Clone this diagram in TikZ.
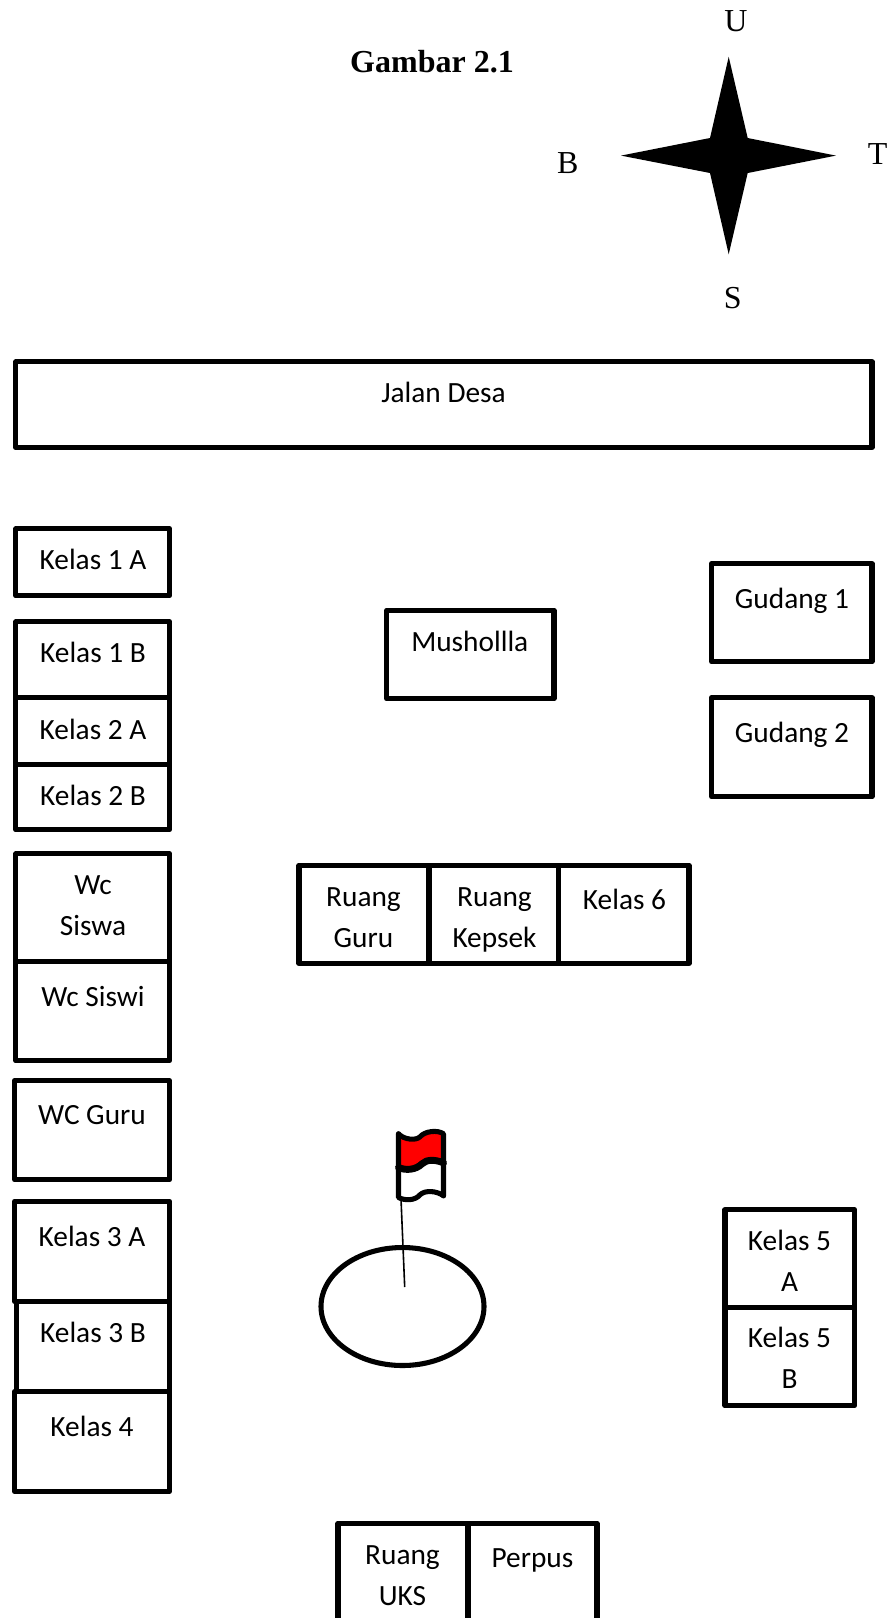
\documentclass[tikz,border=0pt]{standalone}
\usepackage{fontspec}
\setmainfont{Liberation Serif}
\newfontfamily\calibrifont{Carlito}
\tikzset{
  wall/.style={draw=black,line width=3.8pt,line join=round,line cap=round},
  roomtext/.style={align=center,inner sep=0pt,font=\calibrifont\fontsize{22}{30.9}\selectfont},
  compass/.style={inner sep=0pt,font=\fontsize{24}{28}\selectfont},
}
\newcommand{\roomrect}[4]{\draw[wall] (#1,#2) rectangle (#3,#4);}
\begin{document}
\begin{tikzpicture}[x=0.75pt,y=-0.75pt]
\useasboundingbox (0,0) rectangle (887,1618);
\begin{scope}[shift={(1,0.8)}]
% title and compass
\node[inner sep=0pt,font=\bfseries\fontsize{24}{28}\selectfont] (title) at (431,60.5) {Gambar 2.1};
\fill[black] (727.7,56) -- (746.7,137.2) -- (835,154.8) -- (746.7,172.2) -- (727.7,253.5) -- (709,172.2) -- (620,154.8) -- (709,137.2) -- cycle;
\node[compass] (u) at (735,20.7) {U};
\node[compass] (t) at (876.7,153) {T};
\node[compass] (b) at (566.7,162.7) {B};
\node[compass] (s) at (731.7,297.7) {S};
% road
\roomrect{14.8}{361}{871}{446.6}
% left column
\roomrect{14.8}{528}{168.5}{595}
\roomrect{14.8}{621}{168.5}{697}
\roomrect{14.8}{697}{168.5}{764}
\roomrect{14.8}{764}{168.5}{829}
\roomrect{14.8}{853}{168.5}{961}
\roomrect{14.8}{961}{168.5}{1060}
\roomrect{13.6}{1080}{168.5}{1179}
\roomrect{13.6}{1200.5}{168.5}{1300.6}
\roomrect{15.8}{1300.6}{168.5}{1391}
\roomrect{13.6}{1391}{168.5}{1490.5}
% centre
\roomrect{385.7}{609.5}{553}{698}
\roomrect{298}{864.5}{428}{962.5}
\roomrect{428}{864.5}{557.5}{962.5}
\roomrect{557.5}{864.5}{688}{962.5}
% right
\roomrect{710.6}{563}{871}{661}
\roomrect{710.6}{697}{871}{796}
\roomrect{724}{1209}{853.5}{1307}
\roomrect{724}{1307}{853.5}{1405}
% bottom
\roomrect{337}{1522.5}{467}{1640}
\roomrect{467}{1522.5}{596}{1640}
% field and flag
\draw[black,line width=3.8pt] (401.5,1305.7) ellipse (81.5 and 59);
\fill[red] (397.5,1133) .. controls (403,1139) and (415,1140) .. (419,1136) .. controls (424,1130) and (437,1129) .. (442.5,1133) -- (442.5,1162) .. controls (435,1159) and (426,1158) .. (421,1163) .. controls (415,1169) and (405,1170) .. (397.5,1166.7) -- cycle;
\draw[wall] (397.5,1133) .. controls (403,1139) and (415,1140) .. (419,1136) .. controls (424,1130) and (437,1129) .. (442.5,1133) -- (442.5,1195);
\draw[wall] (397.5,1133) -- (397.5,1196.7) .. controls (404,1200) and (414,1200) .. (419,1194) .. controls (424,1189) and (436,1190) .. (442.5,1195);
\draw[wall,line width=5.2pt] (397.5,1166.7) .. controls (405,1170) and (415,1169) .. (421,1163) .. controls (426,1158) and (435,1159) .. (442.5,1162);
\draw[black,line width=1.2pt] (400,1198) -- (403.7,1286.2);
% labels
\node[roomtext] (jalan) at (442.5,393.8) {\strut Jalan Desa};
\node[roomtext] (k1a) at (92,560.8) {\strut Kelas 1 A};
\node[roomtext] (k1b) at (92,653.7) {\strut Kelas 1 B};
\node[roomtext] (k2a) at (92,730) {\strut Kelas 2 A};
\node[roomtext] (k2b) at (92,796) {\strut Kelas 2 B};
\node[roomtext] (wc1) at (92,906) {\strut Wc\\\strut Siswa};
\node[roomtext] (wc2) at (92,997.1) {\strut Wc Siswi};
\node[roomtext] (wcg) at (91,1115.7) {\strut WC Guru};
\node[roomtext] (k3a) at (91,1237.9) {\strut Kelas 3 A};
\node[roomtext] (k3b) at (92,1333.9) {\strut Kelas 3 B};
\node[roomtext] (k4) at (91,1427.7) {\strut Kelas 4};
\node[roomtext] (mus) at (468.8,642.8) {\strut Mushollla};
\node[roomtext] (g1) at (791,599.5) {\strut Gudang 1};
\node[roomtext] (g2) at (791,733.1) {\strut Gudang 2};
\node[roomtext] (rg) at (362.5,917.7) {\strut Ruang\\\strut Guru};
\node[roomtext] (rk) at (493.5,917.7) {\strut Ruang\\\strut Kepsek};
\node[roomtext] (k6) at (623.5,900.7) {\strut Kelas 6};
\node[roomtext] (k5a) at (788.5,1262.3) {\strut Kelas 5\\\strut A};
\node[roomtext] (k5b) at (788.5,1359.3) {\strut Kelas 5\\\strut B};
\node[roomtext] (uks) at (401.5,1576.2) {\strut Ruang\\\strut UKS};
\node[roomtext] (per) at (531.5,1558.8) {\strut Perpus};
\end{scope}
\end{tikzpicture}
\end{document}
